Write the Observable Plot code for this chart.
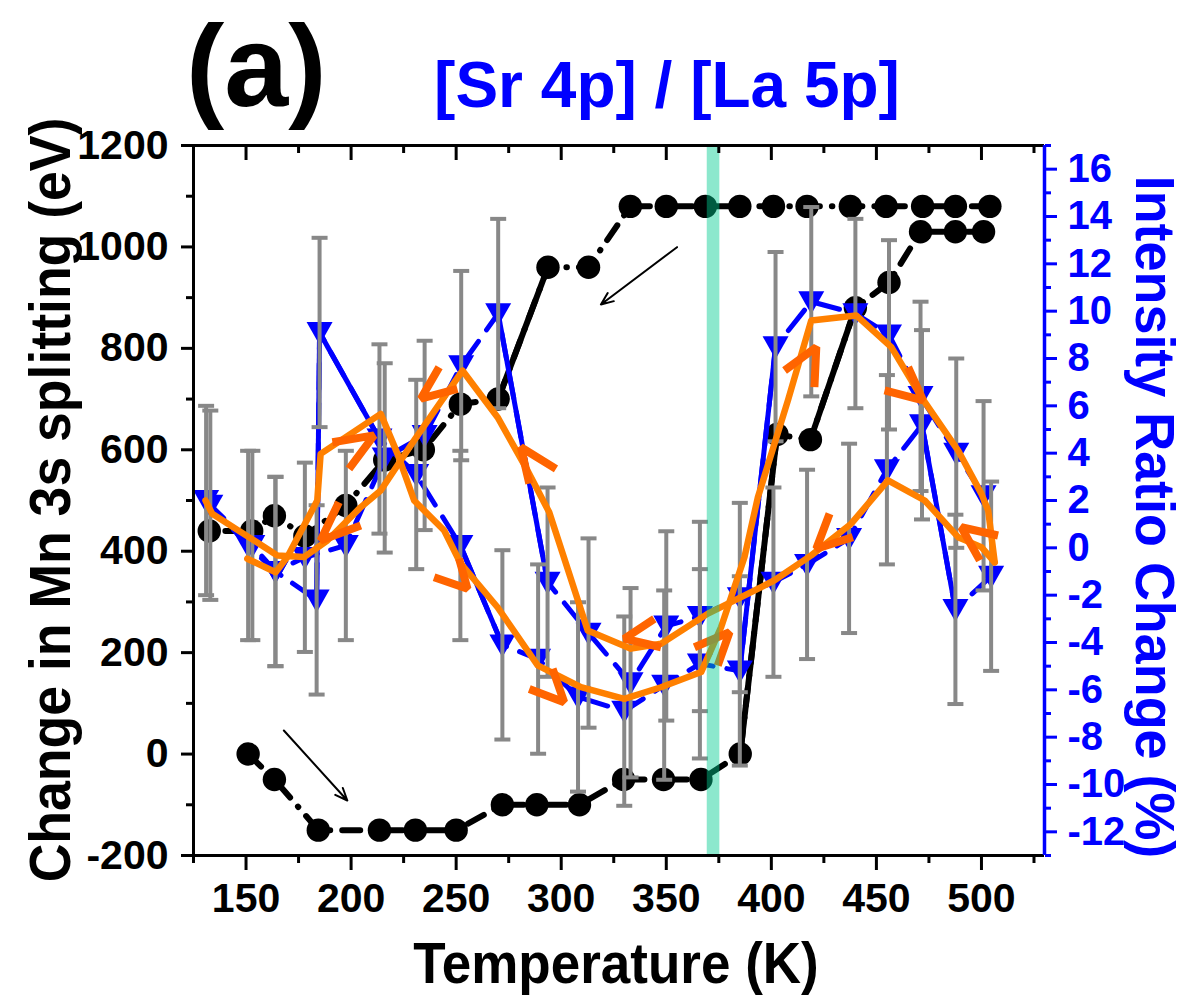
<!DOCTYPE html>
<html><head><meta charset="utf-8">
<script src="https://cdn.jsdelivr.net/npm/d3@7"></script>
<script src="https://cdn.jsdelivr.net/npm/@observablehq/plot@0.6"></script>
<style>
body{margin:0;background:#fff;}
#wrap{position:relative;width:1188px;height:995px;overflow:hidden;background:#fff;}
#wrap svg.overlay{position:absolute;left:0;top:0;pointer-events:none;}
</style></head><body><div id="wrap"></div>
<script>
// ---------- tick labels ----------
const xMajorTicks = [150, 200, 250, 300, 350, 400, 450, 500];
const xMinorTicks = [125, 175, 225, 275, 325, 375, 425, 475, 525];
const leftMajorTicks = [-200, 0, 200, 400, 600, 800, 1000, 1200];
const leftMinorTicks = [-100, 100, 300, 500, 700, 900, 1100];
const rightMajorTicks = [-12, -10, -8, -6, -4, -2, 0, 2, 4, 6, 8, 10, 12, 14, 16];
const rightMinorTicks = [-13, -11, -9, -7, -5, -3, -1, 1, 3, 5, 7, 9, 11, 13, 15, 17];

// ---------- Mn 3s splitting (left axis, eV) ----------
const mnHeatT = [151, 163.5, 184.4, 213.5, 230.6, 250, 272, 288.4, 308.7, 329.7, 348.7, 366.5, 385.2, 402.7, 418.6, 440, 456, 471, 487.6, 501];
const mnHeatV = [0, -50, -150, -150, -150, -150, -100, -100, -100, -50, -50, -50, 0, 630, 620, 880, 930, 1030, 1030, 1030];
const mnCoolT = [504, 487.6, 472, 454.6, 437.6, 417, 401, 385, 368.6, 350, 332.9, 313, 293.7, 270, 252, 234.4, 216, 197.5, 178, 163.5, 152.7, 132.5];
const mnCoolV = [1080, 1080, 1080, 1080, 1080, 1080, 1080, 1080, 1080, 1080, 1080, 960, 960, 700, 690, 600, 580, 490, 430, 470, 440, 440];

// ---------- [Sr 4p]/[La 5p] intensity ratio change (right axis, %) ----------
const srHeatT = [131, 151, 164, 183.6, 185, 213.5, 231, 252, 272, 289, 308, 330, 349, 366, 385, 402, 419, 440, 456, 471, 488, 501];
const srHeatV = [2.0, 0.1, -1.0, -2.2, 9.1, 4.6, 3.1, 0.1, -4.1, -4.7, -6.3, -6.9, -5.8, -4.9, -5.2, 8.5, 10.4, 9.9, 9.0, 6.4, 4.0, 2.2];
const srHeatErr = [4, 4, 4, 4, 4, 4, 4, 4, 4, 4, 4, 4, 4, 4, 4, 4, 4, 4, 4, 4, 4, 4];
const srCoolT = [504.6, 487.6, 471.7, 455, 437, 417, 401, 385, 366, 350, 333, 313, 293.5, 270, 252.4, 235, 216, 197.5, 178, 164, 153, 133];
const srCoolV = [-1.2, -2.6, 5.2, 3.3, 0.4, -0.7, -1.45, -2.1, -2.9, -3.3, -5.7, -3.6, -1.45, 9.9, 7.7, 4.75, 3.8, 0.1, -0.4, -1.0, 0.1, 1.8];
const srCoolErr = [4, 4, 4, 4, 4, 4, 4, 4, 4, 4, 4, 4, 4, 4, 4, 4, 4, 4, 4, 4, 4, 4];

// ---------- hand-drawn orange trend guides (right axis, %) ----------
const trendHeatT = [150.6, 164.1, 169.6, 183.9, 185.5, 214.1, 222.1, 230.0, 244.3, 252.2, 269.7, 288.8, 309.4, 330.0, 347.5, 366.6, 376.1, 387.2, 393.6, 407.9, 419.0, 440.4, 457.1, 471.4, 488.9, 500.0, 503.2, 506.3];
const trendHeatV = [-0.46, -1.03, -0.40, 2.0, 3.97, 5.66, 3.97, 2.0, 0.73, -0.67, -2.51, -4.97, -5.89, -6.38, -5.89, -5.25, -3.35, -0.40, 2.14, 6.23, 9.61, 9.82, 8.48, 6.37, 4.11, 2.28, 1.58, -0.61];
const trendCoolT = [506.3, 500.0, 488.9, 473.0, 455.5, 438.0, 419.0, 401.5, 395.2, 369.8, 347.5, 333.2, 312.6, 294.3, 284.0, 269.7, 253.0, 230.0, 214.1, 204.6, 188.7, 177.6, 164.9, 133.9, 130.7];
const trendCoolV = [-0.61, 0.03, 0.45, 2.0, 2.85, 1.02, -0.32, -1.37, -1.66, -2.78, -4.05, -4.26, -3.49, 1.5, 3.26, 5.52, 7.49, 4.54, 2.42, 1.72, 0.31, -0.39, -0.32, 1.44, 2.0];

// direction chevrons on the guides: [arm, tip, arm] in (K, %)
const chevrons = [
  [[191.1, 4.46], [210.9, 4.75], [199.0, 3.34]],
  [[241.9, 7.63], [233.2, 6.30], [250.6, 6.72]],
  [[194.2, 1.93], [185.5, 0.31], [204.6, 0.94]],
  [[239.5, -1.24], [255.4, -1.73], [251.4, -0.46]],
  [[284.8, 2.71], [280.8, 4.25], [297.5, 3.34]],
  [[284.8, -5.96], [301.4, -6.52], [295.9, -5.11]],
  [[344.3, -3.0], [330.0, -3.84], [347.5, -4.2]],
  [[363.4, -4.2], [380.1, -3.56], [374.5, -4.97]],
  [[406.3, 7.49], [421.4, 8.48], [420.5, 6.79]],
  [[453.9, 6.65], [472.2, 6.23], [465.1, 7.63]],
  [[427.7, 1.44], [421.4, -0.04], [438.8, 0.45]],
  [[507.9, 0.52], [490.4, 0.87], [499.2, -0.53]]
];

// thin black pointer arrows (K, eV)
const pointerFrom = [[168.0, 46.5], [355.1, 999.5]];
const pointerTo = [[198.2, -91.6], [318.9, 886.5]];

// transition band (K)
const tcBand = [369.5, 375.5];

// ---------- build ----------
const FONT = "'Liberation Sans', Arial, Helvetica, sans-serif";
const BLUE = "#0000ff", ORANGE = "#ff8000", ORANGE2 = "#ff6400", GRAY = "#888888";
const toL = r => -200 + (r + 13) * 1400 / 30;        // right axis -> left axis units
const toR = l => (l + 200) * 30 / 1400 - 13;

const mnHeat = mnHeatT.map((t, i) => ({t, y: mnHeatV[i]}));
const mnCool = mnCoolT.map((t, i) => ({t, y: mnCoolV[i]}));
const sr = (T, V, E) => T.map((t, i) => ({t, y: toL(V[i]), lo: toL(V[i] - E[i]), hi: toL(V[i] + E[i])}));
const srHeat = sr(srHeatT, srHeatV, srHeatErr);
const srCool = sr(srCoolT, srCoolV, srCoolErr);
const srAll = srHeat.concat(srCool);
const trendHeat = trendHeatT.map((t, i) => ({t, y: toL(trendHeatV[i])}));
const trendCool = trendCoolT.map((t, i) => ({t, y: toL(trendCoolV[i])}));
const chevPts = chevrons.flatMap((c, id) => c.map(([t, v]) => ({id, t, y: toL(v)})));
const pointers = pointerFrom.map((p, i) => ({x1: p[0], y1: p[1], x2: pointerTo[i][0], y2: pointerTo[i][1]}));

// large steps are drawn as solid connectors (as in the original figure)
const STEP = 0.13 * 1400;
const jumps = s => s.slice(1).map((d, i) => ({x1: s[i].t, y1: s[i].y, x2: d.t, y2: d.y}))
                      .filter(d => Math.abs(d.y2 - d.y1) >= STEP);

const triDown = {draw(ctx, size) { const r = Math.sqrt(size / Math.PI);
  ctx.moveTo(-r, -0.8 * r); ctx.lineTo(r, -0.8 * r); ctx.lineTo(0, 0.96 * r); ctx.closePath(); }};
const capSym = {draw(ctx, size) { const r = Math.sqrt(size / Math.PI);
  ctx.moveTo(-r, 0); ctx.lineTo(r, 0); }};

const FRAME_H = 995 - 145 - 140;
const blackDash = "18,12,0.5,12";
const blueDash = "26,14";

const chart = Plot.plot({
  width: 1188, height: 995,
  marginLeft: 193, marginRight: 144, marginTop: 145, marginBottom: 140,
  x: {domain: [125, 530]},
  y: {domain: [-200, 1200]},
  style: {fontFamily: FONT, fontWeight: "bold", background: "white", overflow: "visible"},
  marks: [
    // Mn 3s splitting
    Plot.line(mnHeat, {x: "t", y: "y", stroke: "black", strokeWidth: 6, strokeDasharray: blackDash, strokeLinecap: "round"}),
    Plot.line(mnCool, {x: "t", y: "y", stroke: "black", strokeWidth: 6, strokeDasharray: blackDash, strokeLinecap: "round"}),
    Plot.link(jumps(mnHeat).concat(jumps(mnCool)), {x1: "x1", y1: "y1", x2: "x2", y2: "y2", stroke: "black", strokeWidth: 6}),
    Plot.dot(mnHeat.concat(mnCool), {x: "t", y: "y", r: 11.7, fill: "black", stroke: "none"}),
    // Sr/La ratio
    Plot.line(srHeat, {x: "t", y: "y", stroke: BLUE, strokeWidth: 5, strokeDasharray: blueDash, strokeLinecap: "round"}),
    Plot.line(srCool, {x: "t", y: "y", stroke: BLUE, strokeWidth: 5, strokeDasharray: blueDash, strokeLinecap: "round"}),
    Plot.link(jumps(srHeat).concat(jumps(srCool)), {x1: "x1", y1: "y1", x2: "x2", y2: "y2", stroke: BLUE, strokeWidth: 5}),
    Plot.dot(srAll, {x: "t", y: "y", r: 13, symbol: triDown, fill: BLUE, stroke: "none"}),
    // error bars
    Plot.ruleX(srAll, {x: "t", y1: "lo", y2: "hi", stroke: GRAY, strokeWidth: 4}),
    Plot.dot(srAll, {x: "t", y: "lo", r: 8, symbol: capSym, fill: "none", stroke: GRAY, strokeWidth: 4}),
    Plot.dot(srAll, {x: "t", y: "hi", r: 8, symbol: capSym, fill: "none", stroke: GRAY, strokeWidth: 4}),
    // orange guides
    Plot.line(trendHeat, {x: "t", y: "y", stroke: ORANGE, strokeWidth: 6.5, strokeLinejoin: "round", strokeLinecap: "round"}),
    Plot.line(trendCool, {x: "t", y: "y", stroke: ORANGE, strokeWidth: 6.5, strokeLinejoin: "round", strokeLinecap: "round"}),
    Plot.line(chevPts, {x: "t", y: "y", z: "id", stroke: ORANGE2, strokeWidth: 8, strokeLinejoin: "miter", strokeLinecap: "butt"}),
    // transition band
    Plot.rect([tcBand], {x1: d => d[0], x2: d => d[1], y1: () => -200, y2: () => 1200, fill: "#00cb90", fillOpacity: 0.45}),
    // pointer arrows
    Plot.arrow(pointers, {x1: "x1", y1: "y1", x2: "x2", y2: "y2", stroke: "black", strokeWidth: 2, headLength: 10, headAngle: 45}),
    // axes
    Plot.axisX({ticks: xMajorTicks, tickSize: 15, tickPadding: 12, strokeWidth: 3, fontSize: 41, fontWeight: "bold", label: null, tickFormat: d => String(d)}),
    Plot.axisX({ticks: xMinorTicks, tickSize: 8, strokeWidth: 3, label: null, tickFormat: () => ""}),
    Plot.tickX(xMajorTicks, {x: d => d, insetBottom: FRAME_H - 15, stroke: "black", strokeWidth: 3}),
    Plot.tickX(xMinorTicks, {x: d => d, insetBottom: FRAME_H - 8, stroke: "black", strokeWidth: 3}),
    Plot.axisY({ticks: leftMajorTicks, tickSize: 12, tickPadding: 13, strokeWidth: 3, fontSize: 41, fontWeight: "bold", label: null, tickFormat: d => String(d)}),
    Plot.axisY({ticks: leftMinorTicks, tickSize: 7, strokeWidth: 3, label: null, tickFormat: () => ""}),
    Plot.axisY({anchor: "right", ticks: rightMajorTicks.map(toL), tickSize: 12, tickPadding: 11, strokeWidth: 3, color: BLUE, fontSize: 40, fontWeight: "bold", label: null, tickFormat: d => String(Math.round(toR(d)))}),
    Plot.axisY({anchor: "right", ticks: rightMinorTicks.map(toL), tickSize: 6, strokeWidth: 3, color: BLUE, label: null, tickFormat: () => ""}),
    Plot.ruleY([-200, 1200], {stroke: "black", strokeWidth: 3}),
    Plot.ruleX([125], {stroke: "black", strokeWidth: 3}),
    Plot.ruleX([530], {stroke: BLUE, strokeWidth: 3.5})
  ]
});
const wrap = document.getElementById("wrap");
wrap.appendChild(chart);

// titles
const NS = "http://www.w3.org/2000/svg";
const ov = document.createElementNS(NS, "svg");
ov.setAttribute("class", "overlay");
ov.setAttribute("width", 1188); ov.setAttribute("height", 995);
ov.setAttribute("font-family", FONT); ov.setAttribute("font-weight", "bold");
function addText(str, attrs) {
  const t = document.createElementNS(NS, "text");
  for (const k in attrs) t.setAttribute(k, attrs[k]);
  t.textContent = str; ov.appendChild(t);
}
addText("(a)", {x: 186, y: 106, "font-size": 115, fill: "black"});
addText("[Sr 4p] / [La 5p]", {x: 667, y: 107, "font-size": 64, fill: BLUE, "text-anchor": "middle"});
addText("Temperature (K)", {transform: "translate(616,983) scale(0.93,1)", "font-size": 57, fill: "black", "text-anchor": "middle"});
addText("Change in Mn 3s splitting (eV)", {transform: "translate(70,500) rotate(-90) scale(0.94,1)", "font-size": 57, fill: "black", "text-anchor": "middle"});
addText("Intensity Ratio Change (%)", {transform: "translate(1136,517) rotate(90) scale(0.98,1)", "font-size": 55, fill: BLUE, "text-anchor": "middle"});
wrap.appendChild(ov);
</script></body></html>
